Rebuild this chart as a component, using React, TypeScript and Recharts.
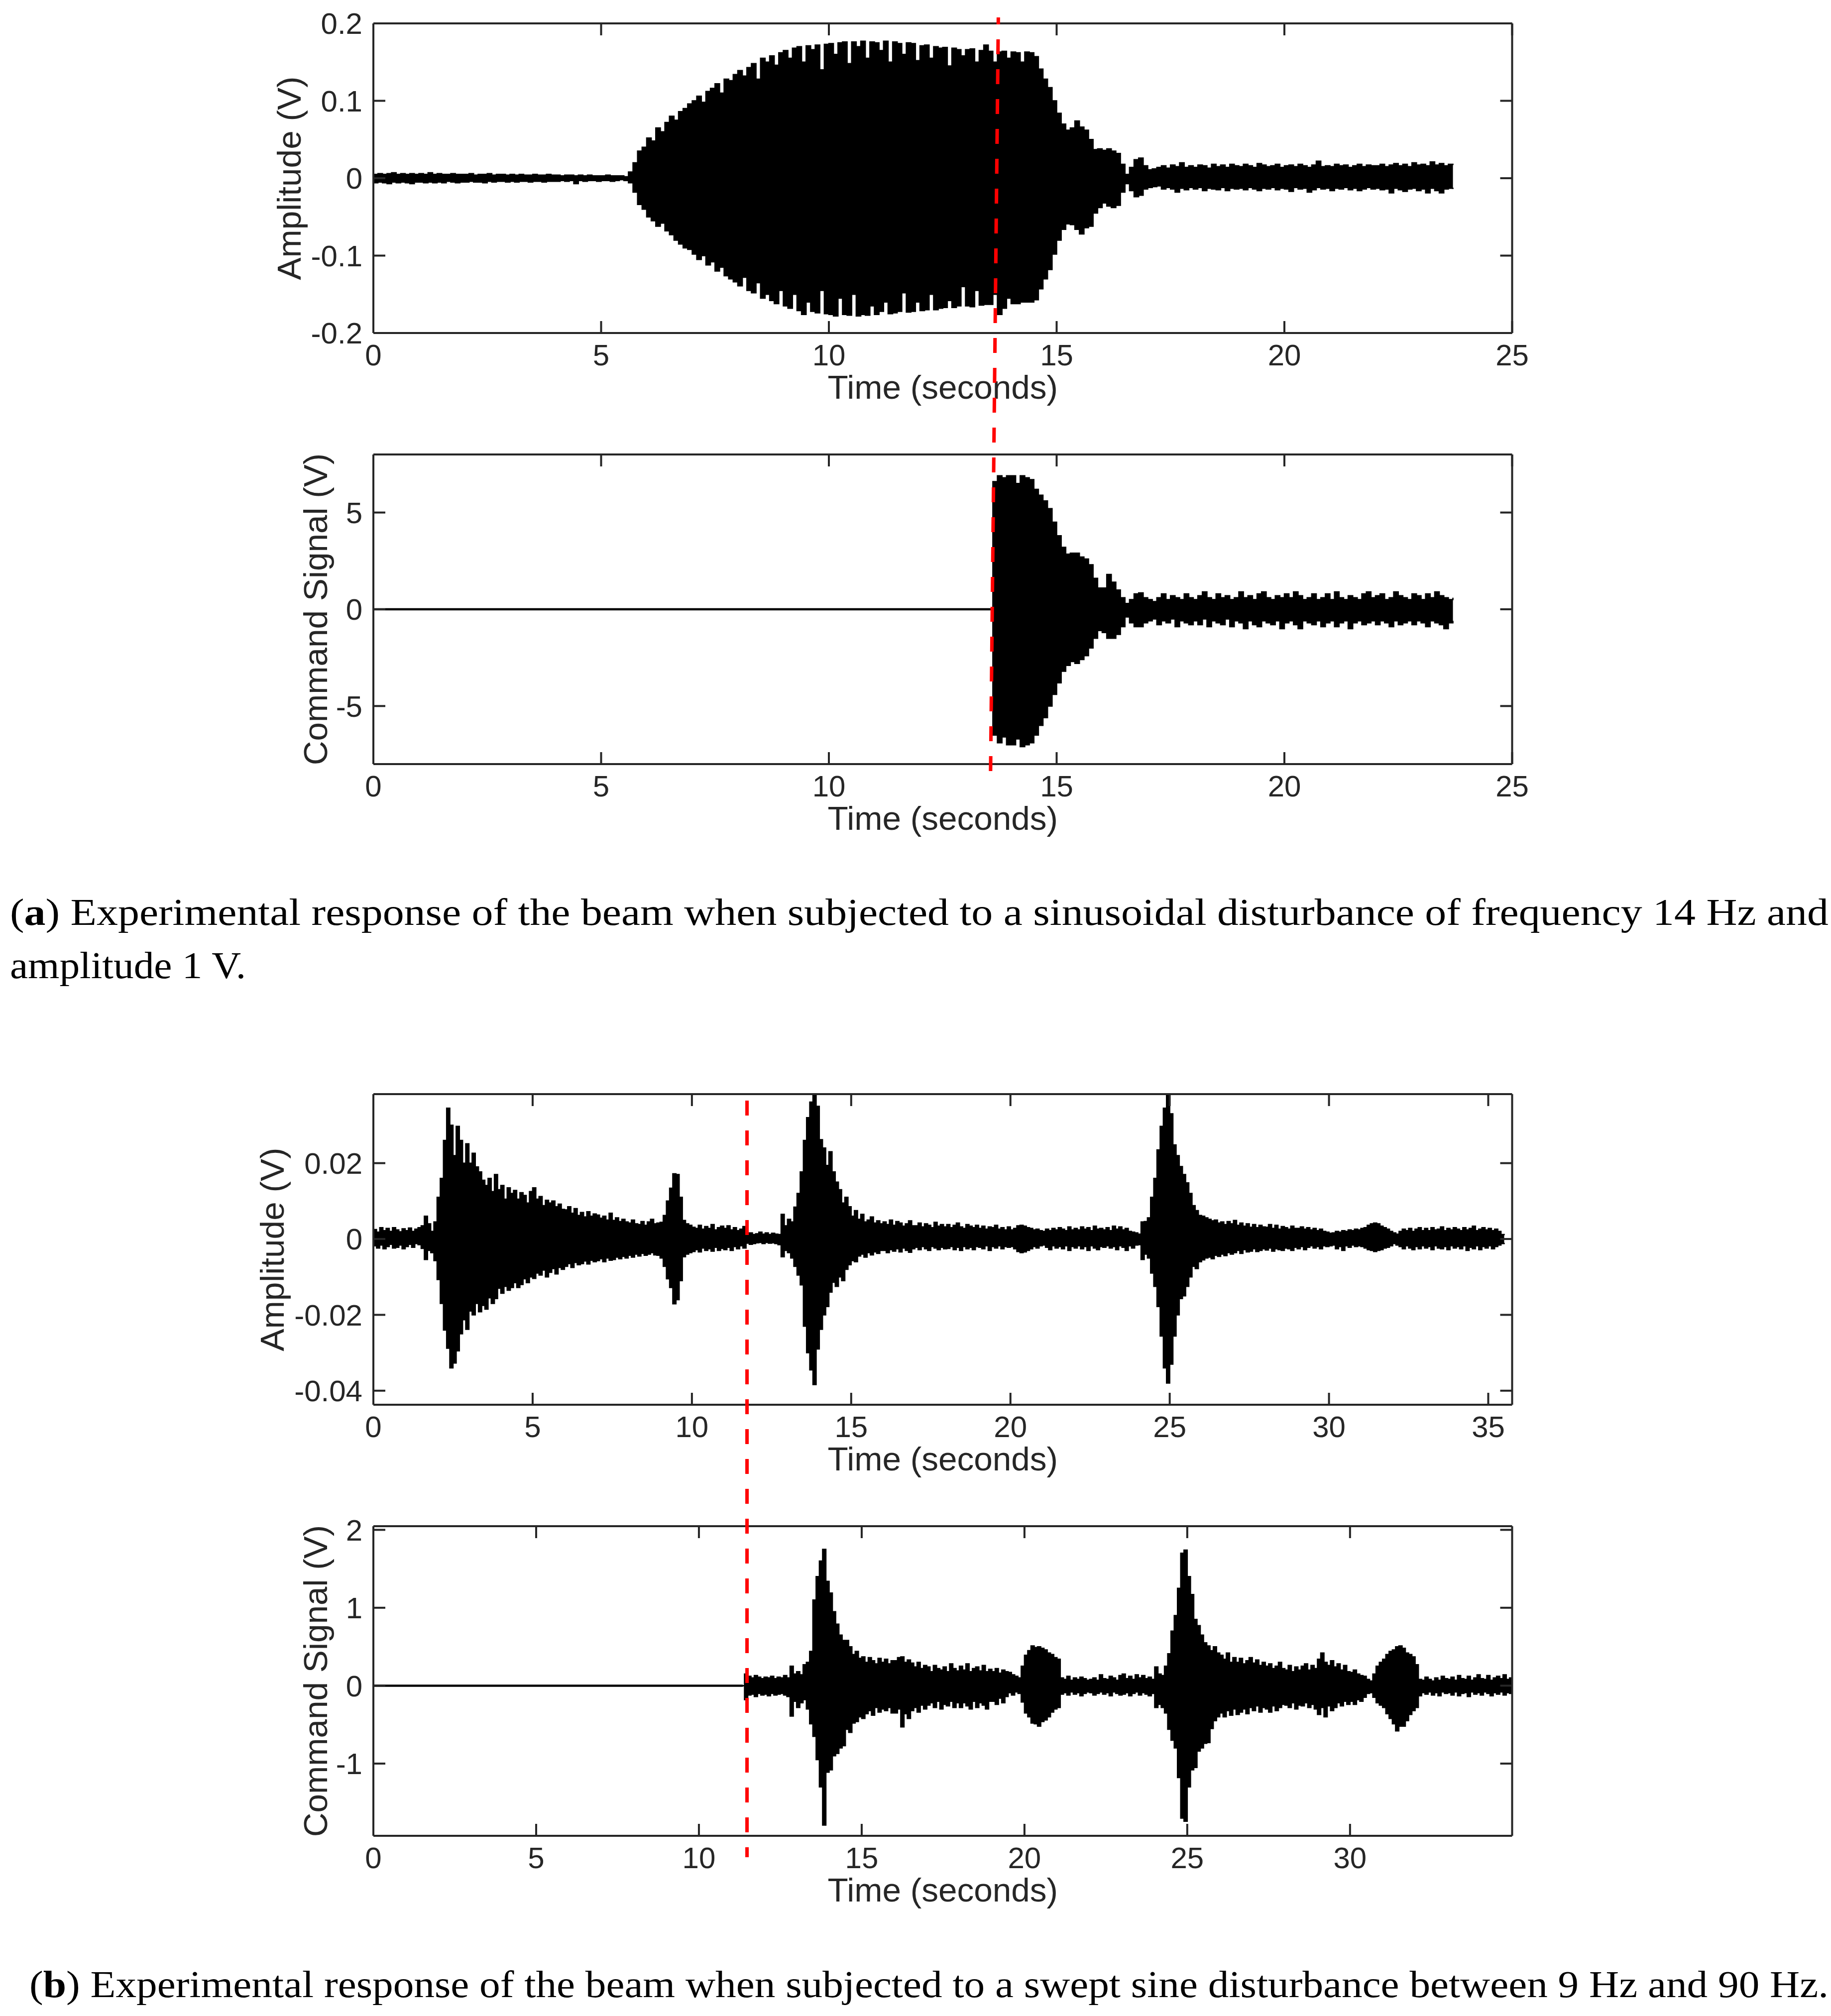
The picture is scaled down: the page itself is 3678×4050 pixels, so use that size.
import { Area, ComposedChart, Line, XAxis, YAxis } from 'recharts';

const SAMPLE_STEP = 0.1;
const INK = '#262626';
const SANS = '"Liberation Sans", Arial, sans-serif';

// envelopes, one sample every 0.1 s, one second per row
const sineUpper = [
  .005, .006, .005, .006, .007, .005, .006, .005, .006, .005,
  .006, .005, .007, .005, .006, .005, .005, .006, .005, .005,
  .005, .006, .004, .005, .005, .006, .004, .005, .005, .004,
  .005, .004, .005, .004, .004, .005, .004, .004, .005, .004,
  .004, .003, .004, .004, .003, .004, .003, .004, .003, .003,
  .003, .004, .003, .003, .003, .002, .008, .020, .035, .040,
  .052, .048, .065, .060, .072, .080, .075, .086, .090, .096,
  .100, .106, .098, .112, .116, .122, .110, .128, .126, .134,
  .139, .132, .143, .148, .128, .155, .150, .158, .146, .162,
  .165, .155, .168, .170, .150, .171, .166, .172, .140, .173,
  .174, .160, .175, .176, .148, .176, .170, .177, .155, .176,
  .175, .165, .177, .150, .176, .174, .160, .175, .174, .152,
  .171, .172, .155, .170, .168, .169, .145, .168, .166, .158,
  .166, .167, .150, .165, .172, .164, .150, .163, .164, .155,
  .163, .162, .150, .163, .162, .157, .141, .128, .117, .100,
  .084, .070, .062, .065, .074, .066, .062, .050, .037, .038,
  .036, .038, .035, .032, .018, .005, .014, .024, .026, .016,
  .011, .012, .014, .016, .013, .017, .015, .020, .014, .016,
  .014, .017, .016, .013, .018, .015, .017, .014, .018, .016,
  .015, .018, .016, .014, .019, .017, .015, .016, .018, .014,
  .016, .017, .015, .018, .016, .014, .017, .022, .015, .016,
  .015, .018, .016, .017, .014, .016, .018, .015, .017, .016,
  .016, .018, .015, .017, .019, .016, .018, .015, .020, .017,
  .018, .016, .021, .017, .019, .016, .018, .017,
];
const sineLower = [
  -.006, -.005, -.006, -.007, -.005, -.006, -.005, -.006, -.007, -.005,
  -.005, -.006, -.005, -.006, -.005, -.006, -.004, -.005, -.006, -.005,
  -.005, -.004, -.005, -.005, -.006, -.004, -.005, -.004, -.004, -.005,
  -.004, -.005, -.004, -.004, -.005, -.004, -.004, -.005, -.004, -.004,
  -.004, -.003, -.004, -.003, -.007, -.003, -.004, -.003, -.003, -.004,
  -.003, -.003, -.004, -.003, -.002, -.003, -.006, -.018, -.034, -.040,
  -.050, -.055, -.062, -.058, -.068, -.073, -.080, -.085, -.090, -.092,
  -.098, -.105, -.100, -.112, -.108, -.120, -.115, -.126, -.130, -.134,
  -.139, -.128, -.145, -.148, -.135, -.155, -.150, -.158, -.162, -.145,
  -.165, -.168, -.150, -.171, -.176, -.160, -.172, -.174, -.145, -.175,
  -.176, -.178, -.155, -.176, -.177, -.150, -.178, -.176, -.177, -.165,
  -.176, -.172, -.160, -.175, -.174, -.172, -.148, -.173, -.172, -.160,
  -.171, -.170, -.150, -.170, -.168, -.167, -.158, -.167, -.165, -.140,
  -.165, -.166, -.145, -.164, -.163, -.163, -.150, -.176, -.168, -.155,
  -.162, -.162, -.160, -.160, -.160, -.157, -.143, -.130, -.118, -.098,
  -.080, -.066, -.059, -.060, -.066, -.072, -.064, -.062, -.045, -.038,
  -.032, -.036, -.038, -.035, -.018, -.007, -.016, -.024, -.022, -.014,
  -.012, -.011, -.010, -.014, -.012, -.014, -.018, -.013, -.015, -.012,
  -.014, -.012, -.016, -.013, -.014, -.015, -.012, -.016, -.013, -.014,
  -.013, -.015, -.012, -.014, -.016, -.013, -.014, -.012, -.015, -.013,
  -.014, -.017, -.012, -.014, -.013, -.018, -.015, -.012, -.014, -.013,
  -.016, -.013, -.014, -.012, -.015, -.013, -.016, -.014, -.012, -.014,
  -.013, -.015, -.014, -.019, -.013, -.015, -.017, -.014, -.013, -.016,
  -.014, -.019, -.013, -.016, -.019, -.014, -.013, -.014,
];

// control switches on at 13.6 s
const sineCommandUpper = [
  6.6, 6.9, 6.8, 6.9,
  6.9, 6.5, 6.9, 6.8, 6.7, 6.2, 5.9, 5.6, 5.2, 4.5,
  3.8, 3.2, 2.85, 2.9, 2.9, 2.7, 2.6, 2.3, 1.6, 1.1,
  1.1, 1.8, 1.4, 1.0, .6, .3, .5, .8, .85, .6,
  .5, .4, .6, .8, .5, .7, .6, .5, .8, .6,
  .5, .7, .9, .6, .5, .8, .6, .7, .5, .6,
  .9, .6, .7, .5, .8, .9, .6, .5, .7, .6,
  .8, .6, .9, .7, .5, .6, .8, .5, .6, .8,
  .5, .9, .6, .5, .7, .6, .5, .8, .9, .6,
  .7, .8, .5, .6, .9, .7, .6, .5, .8, .7,
  .5, .8, .6, .9, .7, .6, .5, .6,
];
const sineCommandLower = [
  -6.5, -6.9, -6.6, -7.0,
  -7.0, -6.7, -7.1, -7.0, -6.9, -6.5, -6.0, -5.6, -5.0, -4.4,
  -3.8, -3.2, -2.9, -2.7, -2.8, -2.6, -2.4, -2.0, -1.5, -1.1,
  -1.2, -1.5, -1.5, -1.3, -.9, -.4, -.7, -.9, -.9, -.7,
  -.6, -.5, -.8, -.6, -.7, -.5, -.9, -.6, -.7, -.8,
  -.6, -.8, -.5, -.9, -.6, -.7, -.8, -.5, -.9, -.6,
  -.7, -1.0, -.6, -.8, -.9, -.6, -.7, -.8, -.6, -1.0,
  -.7, -.6, -.8, -1.0, -.6, -.7, -.8, -.6, -.9, -.7,
  -.6, -.9, -.7, -.6, -1.0, -.7, -.6, -.8, -.7, -.6,
  -.8, -.6, -.7, -.9, -.6, -.8, -.7, -.6, -.8, -.6,
  -.7, -.9, -.6, -.7, -.8, -1.0, -.7, -.6,
];

const sweptUpper = [
  .0025, .0018, .0030, .0022, .0028, .0020, .0030, .0024, .0019, .0027,
  .0022, .0029, .0020, .0026, .0030, .0035, .0060, .0040, .0020, .0045,
  .0110, .0160, .0260, .0345, .0300, .0220, .0297, .0260, .0200, .0251,
  .0200, .0226, .0190, .0177, .0155, .0141, .0160, .0125, .0170, .0130,
  .0141, .0105, .0135, .0120, .0128, .0105, .0122, .0115, .0095, .0125,
  .0135, .0105, .0112, .0088, .0102, .0095, .0100, .0085, .0092, .0078,
  .0077, .0085, .0068, .0080, .0062, .0070, .0058, .0072, .0060, .0066,
  .0063, .0055, .0060, .0050, .0068, .0049, .0056, .0046, .0052, .0045,
  .0042, .0050, .0040, .0038, .0046, .0036, .0045, .0052, .0040, .0042,
  .0044, .0062, .0100, .0134, .0172, .0170, .0110, .0049, .0040, .0036,
  .0031, .0028, .0036, .0026, .0033, .0028, .0038, .0024, .0030, .0034,
  .0028, .0035, .0024, .0030, .0022, .0026, .0033, .0012, .0016, .0012,
  .0014, .0018, .0013, .0016, .0012, .0015, .0013, .0012, .0065, .0035,
  .0052, .0045, .0084, .0120, .0177, .0260, .0320, .0361, .0382, .0350,
  .0262, .0240, .0194, .0230, .0177, .0150, .0130, .0095, .0110, .0085,
  .0060, .0075, .0052, .0065, .0045, .0050, .0058, .0042, .0048, .0040,
  .0045, .0038, .0050, .0036, .0046, .0042, .0034, .0040, .0048, .0035,
  .0035, .0042, .0032, .0040, .0036, .0030, .0044, .0034, .0038, .0032,
  .0038, .0030, .0036, .0042, .0032, .0028, .0038, .0034, .0030, .0036,
  .0028, .0034, .0026, .0032, .0030, .0036, .0026, .0030, .0024, .0032,
  .0024, .0028, .0035, .0036, .0034, .0030, .0028, .0024, .0026, .0022,
  .0020, .0026, .0022, .0028, .0024, .0030, .0026, .0022, .0032, .0024,
  .0028, .0024, .0032, .0026, .0030, .0022, .0034, .0026, .0028, .0024,
  .0030, .0022, .0034, .0026, .0032, .0024, .0028, .0020, .0018, .0016,
  .0013, .0045, .0046, .0056, .0110, .0160, .0235, .0297, .0345, .0382,
  .0330, .0248, .0220, .0191, .0170, .0148, .0120, .0088, .0075, .0062,
  .0060, .0056, .0052, .0048, .0050, .0042, .0045, .0038, .0046, .0040,
  .0049, .0036, .0042, .0034, .0040, .0031, .0038, .0030, .0036, .0032,
  .0031, .0038, .0028, .0036, .0026, .0033, .0030, .0026, .0034, .0028,
  .0028, .0032, .0026, .0030, .0024, .0028, .0022, .0026, .0020, .0018,
  .0015, .0016, .0020, .0018, .0022, .0020, .0024, .0022, .0026, .0024,
  .0028, .0030, .0036, .0040, .0042, .0040, .0034, .0030, .0026, .0020,
  .0016, .0013, .0020, .0026, .0022, .0028, .0020, .0026, .0030, .0022,
  .0028, .0022, .0030, .0024, .0026, .0032, .0022, .0028, .0024, .0030,
  .0026, .0022, .0030, .0024, .0028, .0034, .0022, .0026, .0030, .0024,
  .0028, .0022, .0026, .0020, .0012, .0010,
];
const sweptLower = [
  -.0018, -.0024, -.0016, -.0026, -.0020, -.0014, -.0024, -.0022, -.0016, -.0026,
  -.0020, -.0014, -.0022, -.0012, -.0015, -.0025, -.0054, -.0030, -.0036, -.0057,
  -.0107, -.0170, -.0240, -.0288, -.0340, -.0327, -.0295, -.0250, -.0213, -.0238,
  -.0190, -.0200, -.0170, -.0192, -.0175, -.0185, -.0155, -.0170, -.0157, -.0130,
  -.0143, -.0125, -.0135, -.0128, -.0115, -.0128, -.0120, -.0105, -.0115, -.0100,
  -.0104, -.0090, -.0095, -.0082, -.0100, -.0088, -.0078, -.0092, -.0075, -.0080,
  -.0072, -.0065, -.0075, -.0062, -.0068, -.0065, -.0058, -.0066, -.0056, -.0060,
  -.0057, -.0052, -.0060, -.0050, -.0056, -.0054, -.0048, -.0052, -.0046, -.0050,
  -.0043, -.0048, -.0040, -.0045, -.0038, -.0043, -.0040, -.0036, -.0042, -.0043,
  -.0050, -.0072, -.0105, -.0128, -.0171, -.0160, -.0110, -.0047, -.0040, -.0036,
  -.0033, -.0028, -.0034, -.0024, -.0030, -.0026, -.0032, -.0022, -.0030, -.0025,
  -.0028, -.0022, -.0030, -.0020, -.0026, -.0018, -.0024, -.0011, -.0014, -.0012,
  -.0010, -.0009, -.0012, -.0009, -.0011, -.0010, -.0012, -.0015, -.0047, -.0030,
  -.0036, -.0050, -.0072, -.0095, -.0121, -.0230, -.0300, -.0345, -.0384, -.0290,
  -.0238, -.0200, -.0178, -.0140, -.0114, -.0125, -.0100, -.0110, -.0080, -.0068,
  -.0057, -.0060, -.0045, -.0040, -.0048, -.0036, -.0042, -.0034, -.0038, -.0030,
  -.0030, -.0036, -.0028, -.0032, -.0026, -.0034, -.0024, -.0030, -.0035, -.0026,
  -.0022, -.0028, -.0020, -.0026, -.0030, -.0020, -.0024, -.0028, -.0022, -.0026,
  -.0025, -.0020, -.0028, -.0022, -.0030, -.0020, -.0026, -.0022, -.0028, -.0020,
  -.0022, -.0026, -.0018, -.0030, -.0020, -.0024, -.0018, -.0026, -.0020, -.0022,
  -.0020, -.0026, -.0033, -.0036, -.0034, -.0030, -.0026, -.0020, -.0024, -.0018,
  -.0016, -.0022, -.0028, -.0018, -.0024, -.0020, -.0026, -.0018, -.0030, -.0020,
  -.0024, -.0018, -.0026, -.0020, -.0030, -.0018, -.0024, -.0028, -.0020, -.0022,
  -.0018, -.0024, -.0020, -.0028, -.0018, -.0022, -.0030, -.0018, -.0024, -.0016,
  -.0015, -.0054, -.0040, -.0050, -.0090, -.0125, -.0178, -.0256, -.0340, -.0380,
  -.0330, -.0256, -.0200, -.0157, -.0150, -.0125, -.0100, -.0072, -.0078, -.0060,
  -.0055, -.0050, -.0048, -.0052, -.0043, -.0046, -.0040, -.0044, -.0036, -.0040,
  -.0036, -.0030, -.0038, -.0028, -.0034, -.0032, -.0026, -.0033, -.0030, -.0026,
  -.0029, -.0024, -.0032, -.0026, -.0028, -.0030, -.0024, -.0026, -.0030, -.0022,
  -.0026, -.0020, -.0028, -.0022, -.0018, -.0024, -.0020, -.0026, -.0018, -.0020,
  -.0018, -.0016, -.0026, -.0020, -.0030, -.0018, -.0022, -.0016, -.0020, -.0018,
  -.0020, -.0024, -.0028, -.0030, -.0033, -.0030, -.0028, -.0024, -.0022, -.0018,
  -.0012, -.0016, -.0020, -.0026, -.0018, -.0024, -.0028, -.0020, -.0026, -.0018,
  -.0024, -.0020, -.0028, -.0018, -.0024, -.0026, -.0020, -.0028, -.0018, -.0024,
  -.0020, -.0026, -.0018, -.0030, -.0022, -.0026, -.0018, -.0028, -.0020, -.0024,
  -.0018, -.0026, -.0020, -.0016, -.0012, -.0010,
];

// control switches on at 11.4 s
const sweptCommandUpper = [
  .15, .12, .10, .13, .11, .09,
  .11, .10, .12, .09, .11, .10, .13, .10, .25, .15,
  .18, .14, .27, .30, .44, 1.1, 1.4, 1.6, 1.75, 1.34,
  1.19, .95, .79, .65, .58, .58, .50, .40, .44, .35,
  .37, .30, .36, .32, .28, .35, .30, .34, .28, .32,
  .32, .36, .37, .30, .33, .29, .24, .30, .22, .26,
  .24, .18, .26, .22, .20, .24, .18, .28, .22, .19,
  .25, .20, .28, .18, .22, .24, .19, .26, .18, .21,
  .18, .22, .16, .20, .18, .17, .14, .12, .10, .25,
  .39, .45, .51, .49, .50, .48, .46, .42, .40, .36,
  .34, .10, .08, .12, .07, .10, .08, .11, .09, .07,
  .08, .10, .07, .14, .09, .08, .12, .10, .07, .13,
  .15, .09, .12, .08, .14, .10, .13, .09, .11, .08,
  .24, .15, .13, .25, .41, .70, .90, 1.25, 1.70, 1.74,
  1.40, 1.17, .85, .77, .65, .55, .51, .45, .50, .42,
  .39, .34, .42, .30, .36, .30, .35, .28, .32, .36,
  .29, .33, .26, .30, .25, .28, .22, .25, .30, .22,
  .20, .26, .18, .24, .20, .25, .28, .20, .26, .22,
  .34, .42, .30, .26, .32, .24, .28, .20, .26, .18,
  .17, .20, .15, .13, .12, .08, .06, .15, .25, .30,
  .34, .40, .44, .46, .50, .51, .48, .42, .40, .37,
  .27, .08, .07, .11, .08, .06, .10, .07, .12, .09,
  .08, .11, .07, .13, .09, .08, .12, .07, .10, .14,
  .09, .08, .13, .07, .10, .12, .09, .14, .08, .10,
  .09,
];
const sweptCommandLower = [
  -.18, -.12, -.11, -.14, -.10, -.12,
  -.11, -.13, -.10, -.12, -.11, -.10, -.12, -.14, -.39, -.20,
  -.28, -.22, -.18, -.30, -.49, -.65, -.95, -1.30, -1.79, -1.11,
  -1.08, -.90, -.87, -.80, -.77, -.56, -.60, -.48, -.46, -.40,
  -.42, -.36, -.32, -.38, -.28, -.34, -.30, -.32, -.28, -.35,
  -.35, -.30, -.53, -.36, -.42, -.32, -.28, -.34, -.25, -.30,
  -.25, -.22, -.28, -.20, -.30, -.24, -.26, -.20, -.28, -.22,
  -.28, -.22, -.26, -.30, -.20, -.28, -.22, -.25, -.30, -.20,
  -.20, -.24, -.16, -.22, -.14, -.09, -.12, -.08, -.10, -.21,
  -.35, -.40, -.48, -.49, -.52, -.46, -.44, -.40, -.34, -.30,
  -.28, -.11, -.09, -.12, -.08, -.11, -.09, -.13, -.10, -.08,
  -.09, -.12, -.10, -.08, -.11, -.09, -.13, -.08, -.10, -.12,
  -.11, -.09, -.13, -.10, -.08, -.12, -.09, -.11, -.13, -.10,
  -.28, -.24, -.28, -.35, -.56, -.70, -.80, -1.18, -1.70, -1.74,
  -1.30, -1.08, -1.05, -.84, -.80, -.74, -.73, -.55, -.45, -.40,
  -.35, -.40, -.32, -.38, -.30, -.37, -.34, -.30, -.36, -.28,
  -.32, -.26, -.34, -.28, -.30, -.34, -.26, -.32, -.28, -.24,
  -.25, -.28, -.22, -.30, -.25, -.26, -.22, -.28, -.24, -.30,
  -.37, -.28, -.40, -.26, -.32, -.28, -.22, -.26, -.20, -.24,
  -.20, -.24, -.18, -.20, -.15, -.10, -.09, -.15, -.22, -.25,
  -.28, -.36, -.42, -.49, -.58, -.52, -.52, -.45, -.37, -.32,
  -.28, -.13, -.09, -.11, -.08, -.12, -.09, -.13, -.08, -.10,
  -.09, -.12, -.08, -.13, -.10, -.09, -.14, -.08, -.11, -.09,
  -.12, -.08, -.10, -.13, -.09, -.11, -.08, -.12, -.09, -.10,
  -.09,
];

const ticks25 = [0, 5, 10, 15, 20, 25];
const ticks35 = [0, 5, 10, 15, 20, 25, 30, 35];
const ticks30 = [0, 5, 10, 15, 20, 25, 30];
const amplitudeTicksA = [-0.2, -0.1, 0, 0.1, 0.2];
const commandTicksA = [-5, 0, 5];
const amplitudeTicksB = [-0.04, -0.02, 0, 0.02];
const commandTicksB = [-1, 0, 1, 2];

const switchTimeA = [13.72, 13.55];
const switchLevelA = [0.2076, -0.765];
const switchTimeB = [11.73, 11.73];
const switchLevelB = [0.0365, -0.1629];

const toTable = (start: number, upper: number[], lower: number[], switchOn = 0) => {
  const samples = upper.map((hi, i) => ({ t: start + i * SAMPLE_STEP, band: [lower[i], hi] }));
  if (!switchOn) return samples;
  return [
    { t: 0, band: [0, 0], flat: 0 },
    { t: switchOn, band: [0, 0], flat: 0 },
    ...samples,
  ];
};

const tickStyle = { fontSize: 60, fill: INK, fontFamily: SANS };
const labelStyle = { fontSize: 67.5, fill: INK, fontFamily: SANS };
const axisPen = { stroke: INK, strokeWidth: 4 };
const blank = () => '';

interface SignalPanelProps {
  data: any[];
  top: number;
  plotHeight: number;
  xMax: number;
  xTicks: number[];
  yDomain: [number, number];
  yTicks: number[];
  yLabel: string;
  yLabelOffset: number;
}

const PAD_TOP = 60;
const PAD_RIGHT = 70;
const PLOT_LEFT = 750;
const PLOT_RIGHT = 3037.5;
const AXIS_HEIGHT = 150;

const SignalPanel = ({ data, top, plotHeight, xMax, xTicks, yDomain, yTicks, yLabel, yLabelOffset }: SignalPanelProps) => (
  <div style={{ position: 'absolute', left: 0, top: top - PAD_TOP }}>
    <ComposedChart
      width={PLOT_RIGHT + PAD_RIGHT}
      height={PAD_TOP + plotHeight + AXIS_HEIGHT}
      data={data}
      margin={{ top: PAD_TOP - 1, right: PAD_RIGHT - 1, bottom: 0, left: 0 }}
    >
      <XAxis
        dataKey="t"
        type="number"
        domain={[0, xMax]}
        allowDataOverflow
        ticks={xTicks}
        interval={0}
        height={AXIS_HEIGHT}
        tickSize={-24}
        tickMargin={46}
        axisLine={axisPen}
        tickLine={axisPen}
        tick={tickStyle}
        label={{ value: 'Time (seconds)', position: 'insideBottom', offset: 18, style: labelStyle }}
      />
      <XAxis
        xAxisId="top"
        orientation="top"
        dataKey="t"
        type="number"
        domain={[0, xMax]}
        allowDataOverflow
        ticks={xTicks}
        interval={0}
        height={1}
        tickSize={-24}
        axisLine={axisPen}
        tickLine={axisPen}
        tickFormatter={blank}
      />
      <YAxis
        type="number"
        domain={yDomain}
        allowDataOverflow
        ticks={yTicks}
        interval={0}
        width={PLOT_LEFT}
        tickSize={-24}
        tickMargin={46}
        axisLine={axisPen}
        tickLine={axisPen}
        tick={tickStyle}
        label={{
          value: yLabel,
          angle: -90,
          position: 'insideLeft',
          offset: yLabelOffset,
          style: { ...labelStyle, textAnchor: 'middle' },
        }}
      />
      <YAxis
        yAxisId="right"
        orientation="right"
        type="number"
        domain={yDomain}
        allowDataOverflow
        ticks={yTicks}
        interval={0}
        width={1}
        tickSize={-24}
        axisLine={axisPen}
        tickLine={axisPen}
        tickFormatter={blank}
      />
      <Area
        dataKey="band"
        type="stepAfter"
        fill="#000000"
        fillOpacity={1}
        stroke="#000000"
        strokeWidth={2.5}
        dot={false}
        activeDot={false}
        isAnimationActive={false}
      />
      <Line dataKey="flat" stroke="#000000" strokeWidth={4.5} dot={false} activeDot={false} isAnimationActive={false} />
    </ComposedChart>
  </div>
);

interface SwitchLineProps {
  times: number[];
  levels: number[];
  top: number;
  height: number;
  xMax: number;
  dashOffset: number;
}

// red dashed marker running across both panels of a figure
const SwitchLine = ({ times, levels, top, height, xMax, dashOffset }: SwitchLineProps) => (
  <div style={{ position: 'absolute', left: 0, top }}>
    <ComposedChart
      width={3678}
      height={height}
      data={times.map((t, i) => ({ t, level: levels[i] }))}
      margin={{ top: 0, right: 3678 - PLOT_RIGHT, bottom: 0, left: PLOT_LEFT }}
    >
      <XAxis hide dataKey="t" type="number" domain={[0, xMax]} allowDataOverflow />
      <YAxis hide type="number" domain={[levels[1], levels[0]]} allowDataOverflow />
      <Line
        dataKey="level"
        stroke="#ff0000"
        strokeWidth={7}
        strokeDasharray="30 30"
        strokeDashoffset={dashOffset}
        dot={false}
        activeDot={false}
        isAnimationActive={false}
      />
    </ComposedChart>
  </div>
);

const CAPTION_A1 = ' Experimental response of the beam when subjected to a sinusoidal disturbance of frequency 14 Hz and';
const CAPTION_A2 = 'amplitude 1 V.';
const CAPTION_B = ' Experimental response of the beam when subjected to a swept sine disturbance between 9 Hz and 90 Hz.';

const captionStyle = { fontFamily: '"Liberation Serif", serif', fontSize: 76, fill: '#000000' };

const Captions = () => (
  <svg width={3678} height={4050} style={{ position: 'absolute', left: 0, top: 0 }}>
    <text x={20} y={1858} textLength={3653} lengthAdjust="spacingAndGlyphs" style={captionStyle}>
      (<tspan fontWeight="bold">a</tspan>){CAPTION_A1}
    </text>
    <text x={20} y={1965} textLength={474} lengthAdjust="spacingAndGlyphs" style={captionStyle}>
      {CAPTION_A2}
    </text>
    <text x={59} y={4012} textLength={3614} lengthAdjust="spacingAndGlyphs" style={captionStyle}>
      (<tspan fontWeight="bold">b</tspan>){CAPTION_B}
    </text>
  </svg>
);

const App = () => (
  <div style={{ position: 'absolute', left: 0, top: 0, width: 3678, height: 4050, background: '#ffffff', overflow: 'hidden' }}>
    <SignalPanel
      data={toTable(0, sineUpper, sineLower)}
      top={47}
      plotHeight={622}
      xMax={25}
      xTicks={ticks25}
      yDomain={[-0.2, 0.2]}
      yTicks={amplitudeTicksA}
      yLabel="Amplitude (V)"
      yLabelOffset={580}
    />
    <SignalPanel
      data={toTable(13.6, sineCommandUpper, sineCommandLower, 13.55)}
      top={913}
      plotHeight={622}
      xMax={25}
      xTicks={ticks25}
      yDomain={[-8, 8]}
      yTicks={commandTicksA}
      yLabel="Command Signal (V)"
      yLabelOffset={633}
    />
    <SignalPanel
      data={toTable(0, sweptUpper, sweptLower)}
      top={2198}
      plotHeight={624}
      xMax={35.75}
      xTicks={ticks35}
      yDomain={[-0.0437, 0.0382]}
      yTicks={amplitudeTicksB}
      yLabel="Amplitude (V)"
      yLabelOffset={546}
    />
    <SignalPanel
      data={toTable(11.4, sweptCommandUpper, sweptCommandLower, 11.35)}
      top={3065.5}
      plotHeight={622}
      xMax={34.98}
      xTicks={ticks30}
      yDomain={[-1.927, 2.047]}
      yTicks={commandTicksB}
      yLabel="Command Signal (V)"
      yLabelOffset={633}
    />
    <SwitchLine times={switchTimeA} levels={switchLevelA} top={35} height={1514} xMax={25} dashOffset={16} />
    <SwitchLine times={switchTimeB} levels={switchLevelB} top={2210.6} height={1520.4} xMax={35.75} dashOffset={0} />
    <Captions />
  </div>
);

export default App;
